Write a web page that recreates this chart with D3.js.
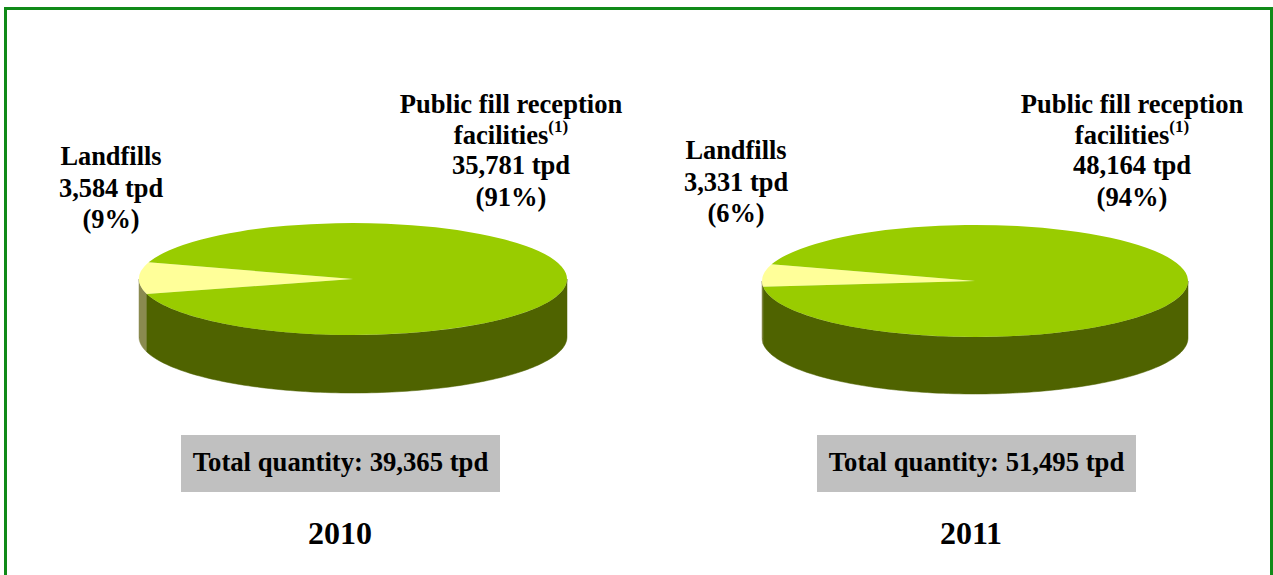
<!DOCTYPE html>
<html>
<head>
<meta charset="utf-8">
<script src="https://cdn.jsdelivr.net/npm/d3@7"></script>
<style>
  html, body { margin: 0; padding: 0; background: #fff; overflow: hidden; }
  text { font-family: "Liberation Serif", serif; font-weight: bold; fill: #000; }
</style>
</head>
<body>
<div id="chart"></div>
<script>
var width = 1273,
  height = 575;

var years = ["2010", "2011"];
var categories = ["Landfills", "Public fill reception facilities"];
var values2010 = [3584, 35781];
var values2011 = [3331, 48164];
var percents2010 = ["(9%)", "(91%)"];
var percents2011 = ["(6%)", "(94%)"];
var totals = ["39,365", "51,495"];

var colors = ["#ffff99", "#99cc00"];
var sideColors = ["#8a8a50", "#4f6300"];

// one entry per pie, only layout in here
var layout = [
  {
    values: values2010, percents: percents2010, total: totals[0], year: years[0],
    cx: 353, cy: 279, rx: 214, ry: 56, depth: 58, start: 254.5,
    yearX: 340, boxX: 181,
    landfill: [111, 165], pub: [511, 113]
  },
  {
    values: values2011, percents: percents2011, total: totals[1], year: years[1],
    cx: 975, cy: 281, rx: 213, ry: 56, depth: 57, start: 264,
    yearX: 971, boxX: 817,
    landfill: [736, 159], pub: [1132, 113]
  }
];

var svg = d3
  .select("#chart")
  .append("svg")
  .attr("width", width)
  .attr("height", height);

// green frame, the bottom edge runs off the page
svg
  .append("rect")
  .attr("x", 5.5)
  .attr("y", 8.5)
  .attr("width", 1266)
  .attr("height", 600)
  .attr("fill", "none")
  .attr("stroke", "#108a18")
  .attr("stroke-width", 3);

function rad(deg) {
  return (deg * Math.PI) / 180;
}

layout.forEach(function(p) {
  var g = svg.append("g").attr("transform", `translate(${p.cx},${p.cy})`);

  var slices = d3
    .pie()
    .sort(null)
    .startAngle(rad(p.start))
    .endAngle(rad(p.start) + 2 * Math.PI)(p.values);

  // x/y of an angle on the squashed rim
  var rimX = d3.scaleLinear().domain([-1, 1]).range([-p.rx, p.rx]);
  var rimY = d3.scaleLinear().domain([-1, 1]).range([-p.ry, p.ry]);

  // side wall, only the front half of the rim shows
  slices.forEach(function(d, i) {
    var segments = [];
    [[90, 270], [450, 630]].forEach(function(front) {
      var a0 = Math.max(d.startAngle, rad(front[0]));
      var a1 = Math.min(d.endAngle, rad(front[1]));
      if (a1 > a0) segments.push([a0, a1]);
    });
    segments.forEach(function(s) {
      var angles = d3.range(0, 121).map(function(k) {
        return s[0] + ((s[1] - s[0]) * k) / 120;
      });
      var pts = angles.map(function(a) {
        return [rimX(Math.sin(a)), rimY(-Math.cos(a))];
      });
      var wall = pts.concat(
        pts.slice().reverse().map(function(q) {
          return [q[0], q[1] + p.depth];
        })
      );
      g.append("path")
        .attr("d", d3.line()(wall) + "Z")
        .attr("fill", sideColors[i])
        .attr("stroke", sideColors[i])
        .attr("stroke-width", 0.5);
    });
  });

  // top face, d3.arc squashed to an ellipse
  var arc = d3.arc().innerRadius(0).outerRadius(p.rx);
  g.append("g")
    .attr("transform", `scale(1,${p.ry / p.rx})`)
    .selectAll("path")
    .data(slices)
    .enter()
    .append("path")
    .attr("d", arc)
    .attr("fill", function(d, i) {
      return colors[i];
    });

  // labels
  var landfillLines = [
    categories[0],
    d3.format(",")(p.values[0]) + " tpd",
    p.percents[0]
  ];
  svg
    .append("text")
    .attr("text-anchor", "middle")
    .attr("font-size", 26.4)
    .selectAll("tspan")
    .data(landfillLines)
    .enter()
    .append("tspan")
    .attr("x", p.landfill[0])
    .attr("y", function(d, i) {
      return p.landfill[1] + i * 31.5;
    })
    .text(function(d) {
      return d;
    });

  var pubText = svg
    .append("g")
    .attr("text-anchor", "middle")
    .attr("font-size", 26.6);
  pubText
    .append("text")
    .attr("x", p.pub[0])
    .attr("y", p.pub[1])
    .text("Public fill reception");
  var fac = pubText
    .append("text")
    .attr("x", p.pub[0])
    .attr("y", p.pub[1] + 31);
  fac.append("tspan").text("facilities");
  fac
    .append("tspan")
    .attr("font-size", 17)
    .attr("dy", -12)
    .text("(1)");
  pubText
    .append("text")
    .attr("x", p.pub[0])
    .attr("y", p.pub[1] + 61)
    .text(d3.format(",")(p.values[1]) + " tpd");
  pubText
    .append("text")
    .attr("x", p.pub[0])
    .attr("y", p.pub[1] + 93)
    .text(p.percents[1]);

  // total box and year
  svg
    .append("rect")
    .attr("x", p.boxX)
    .attr("y", 435)
    .attr("width", 319)
    .attr("height", 57)
    .attr("fill", "#c0c0c0");
  svg
    .append("text")
    .attr("x", p.boxX + 159.5)
    .attr("y", 471)
    .attr("text-anchor", "middle")
    .attr("font-size", 26.7)
    .text("Total quantity: " + p.total + " tpd");
  svg
    .append("text")
    .attr("x", p.yearX)
    .attr("y", 544)
    .attr("text-anchor", "middle")
    .attr("font-size", 32)
    .text(p.year);
});
</script>
</body>
</html>
